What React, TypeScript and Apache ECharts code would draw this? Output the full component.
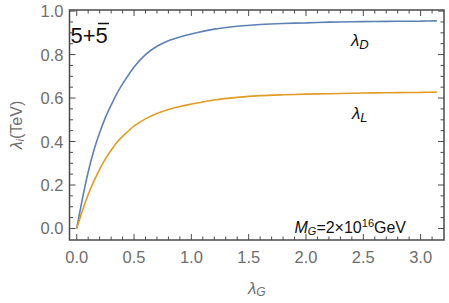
import React, { useEffect, useRef } from "react";
import * as echarts from "echarts";

const lambdaG = [0, 0.05, 0.1, 0.15, 0.2, 0.25, 0.3, 0.35, 0.4, 0.5, 0.6, 0.7, 0.8, 0.9, 1.0, 1.2, 1.4, 1.6, 1.8, 2.0, 2.2, 2.4, 2.6, 2.8, 3.0, 3.1416];
const lambdaD = [0, 0.138, 0.26, 0.36, 0.44, 0.51, 0.567, 0.62, 0.665, 0.743, 0.8, 0.838, 0.864, 0.881, 0.895, 0.917, 0.93, 0.938, 0.943, 0.946, 0.949, 0.951, 0.952, 0.953, 0.954, 0.955];
const lambdaL = [0, 0.083, 0.156, 0.218, 0.272, 0.32, 0.36, 0.396, 0.424, 0.471, 0.504, 0.529, 0.547, 0.561, 0.572, 0.591, 0.603, 0.611, 0.615, 0.618, 0.62, 0.622, 0.624, 0.625, 0.626, 0.627];

const xMajorTicks = [0, 0.5, 1.0, 1.5, 2.0, 2.5, 3.0];
const xMinorTicks = [0.1, 0.2, 0.3, 0.4, 0.6, 0.7, 0.8, 0.9, 1.1, 1.2, 1.3, 1.4, 1.6, 1.7, 1.8, 1.9, 2.1, 2.2, 2.3, 2.4, 2.6, 2.7, 2.8, 2.9, 3.1];
const yMajorTicks = [0, 0.2, 0.4, 0.6, 0.8, 1.0];
const yMinorTicks = [0.05, 0.1, 0.15, 0.25, 0.3, 0.35, 0.45, 0.5, 0.55, 0.65, 0.7, 0.75, 0.85, 0.9, 0.95];

const X_MIN = -0.063;
const X_MAX = 3.204;
const Y_MIN = -0.053;
const Y_MAX = 1.005;

const FONT = "'Liberation Sans', Arial, sans-serif";
const FRAME = "#4a4a4a";
const TICKTXT = "#6e6e6e";
const BLUE = "#5E81B5";
const ORANGE = "#E19C24";
const MAJOR_LEN = 6;
const MINOR_LEN = 3.5;

function tickSeries(kind: "x" | "y", ticks: number[], len: number) {
  return {
    type: "custom",
    xAxisIndex: 0,
    yAxisIndex: 0,
    clip: false,
    silent: true,
    z: 10,
    data: ticks.map((v) => (kind === "x" ? [v, 0.5] : [1, v])),
    renderItem: (params: any, api: any) => {
      const style = { stroke: FRAME, lineWidth: 1, fill: "none" };
      if (kind === "x") {
        const x = api.coord([api.value(0), Y_MIN])[0];
        const yb = api.coord([0, Y_MIN])[1];
        const yt = api.coord([0, Y_MAX])[1];
        return {
          type: "group",
          children: [
            { type: "line", shape: { x1: x, y1: yb, x2: x, y2: yb - len }, style },
            { type: "line", shape: { x1: x, y1: yt, x2: x, y2: yt + len }, style },
          ],
        };
      }
      const y = api.coord([X_MIN, api.value(1)])[1];
      const xl = api.coord([X_MIN, 0])[0];
      const xr = api.coord([X_MAX, 0])[0];
      return {
        type: "group",
        children: [
          { type: "line", shape: { x1: xl, y1: y, x2: xl + len, y2: y }, style },
          { type: "line", shape: { x1: xr, y1: y, x2: xr - len, y2: y }, style },
        ],
      };
    },
  };
}

export default function App() {
  const ref = useRef<HTMLDivElement>(null);
  useEffect(() => {
    if (!ref.current) return;
    const chart = echarts.init(ref.current, null, { renderer: "svg" });
    chart.setOption({
      animation: false,
      backgroundColor: "#ffffff",
      grid: { left: 59, top: 10, right: 5, bottom: 55, containLabel: false, show: true, borderColor: FRAME, borderWidth: 1.5, backgroundColor: "transparent" },
      xAxis: {
        type: "value",
        min: X_MIN,
        max: X_MAX,
        axisLine: { show: false, onZero: false },
        axisTick: { show: false },
        splitLine: { show: false },
        axisLabel: {
          customValues: xMajorTicks,
          formatter: (v: number) => v.toFixed(1),
          fontSize: 16.5,
          fontFamily: FONT,
          color: TICKTXT,
          margin: 8,
        },
        name: "{l|λ}{s|G}",
        nameLocation: "middle",
        nameGap: 38,
        nameTextStyle: {
          rich: {
            l: { fontSize: 17, fontStyle: "italic", fontFamily: FONT, color: TICKTXT },
            s: { fontSize: 12, fontStyle: "italic", fontFamily: FONT, color: TICKTXT, padding: [8, 0, 0, 0] },
          },
        },
      },
      yAxis: {
        type: "value",
        min: Y_MIN,
        max: Y_MAX,
        axisLine: { show: false, onZero: false },
        axisTick: { show: false },
        splitLine: { show: false },
        axisLabel: {
          customValues: yMajorTicks,
          formatter: (v: number) => v.toFixed(1),
          fontSize: 16.5,
          fontFamily: FONT,
          color: TICKTXT,
          margin: 6,
        },
        name: "{l|λ}{s|i}{n|(TeV)}",
        nameLocation: "middle",
        nameGap: 44,
        nameRotate: 90,
        nameTextStyle: {
          rich: {
            l: { fontSize: 16, fontStyle: "italic", fontFamily: FONT, color: TICKTXT },
            s: { fontSize: 11, fontStyle: "italic", fontFamily: FONT, color: TICKTXT, padding: [8, 0, 0, 0] },
            n: { fontSize: 16, fontFamily: FONT, color: TICKTXT },
          },
        },
      },
      series: [
        tickSeries("x", xMajorTicks, MAJOR_LEN),
        tickSeries("x", xMinorTicks, MINOR_LEN),
        tickSeries("y", yMajorTicks, MAJOR_LEN),
        tickSeries("y", yMinorTicks, MINOR_LEN),
        {
          type: "line",
          data: lambdaG.map((x, i) => [x, lambdaD[i]]),
          showSymbol: false,
          smooth: 0.25,
          lineStyle: { color: BLUE, width: 1.6 },
        },
        {
          type: "line",
          data: lambdaG.map((x, i) => [x, lambdaL[i]]),
          showSymbol: false,
          smooth: 0.25,
          lineStyle: { color: ORANGE, width: 1.6 },
        },
      ],
      graphic: [
        {
          type: "text",
          x: 70.5,
          y: 35,
          style: { text: "5+5", fontSize: 22, fontFamily: FONT, fill: "#111", verticalAlign: "middle", align: "left" },
        },
        {
          type: "line",
          shape: { x1: 98, y1: 23.5, x2: 109, y2: 23.5 },
          style: { stroke: "#111", lineWidth: 1.5 },
        },
        {
          type: "text",
          x: 351,
          y: 40,
          style: {
            text: "{l|λ}{s|D}",
            verticalAlign: "middle",
            align: "left",
            rich: {
              l: { fontSize: 17, fontStyle: "italic", fontFamily: FONT, fill: "#111" },
              s: { fontSize: 13, fontStyle: "italic", fontFamily: FONT, fill: "#111", padding: [9, 0, 0, 0] },
            },
          },
        },
        {
          type: "text",
          x: 352,
          y: 113,
          style: {
            text: "{l|λ}{s|L}",
            verticalAlign: "middle",
            align: "left",
            rich: {
              l: { fontSize: 17, fontStyle: "italic", fontFamily: FONT, fill: "#111" },
              s: { fontSize: 13, fontStyle: "italic", fontFamily: FONT, fill: "#111", padding: [9, 0, 0, 0] },
            },
          },
        },
        {
          type: "text",
          x: 294.5,
          y: 227,
          style: {
            text: "{i|M}{s|G}{n|=2×10}{p|16}{n|GeV}",
            verticalAlign: "middle",
            align: "left",
            rich: {
              i: { fontSize: 16, fontStyle: "italic", fontFamily: FONT, fill: "#111" },
              s: { fontSize: 11, fontStyle: "italic", fontFamily: FONT, fill: "#111", padding: [7, 0, 0, 0] },
              n: { fontSize: 16, fontFamily: FONT, fill: "#111" },
              p: { fontSize: 11, fontFamily: FONT, fill: "#111", padding: [0, 0, 9, 0] },
            },
          },
        },
      ],
    });
    return () => chart.dispose();
  }, []);
  return <div ref={ref} style={{ width: 449, height: 303, position: "absolute", left: 0, top: 0 }} />;
}
